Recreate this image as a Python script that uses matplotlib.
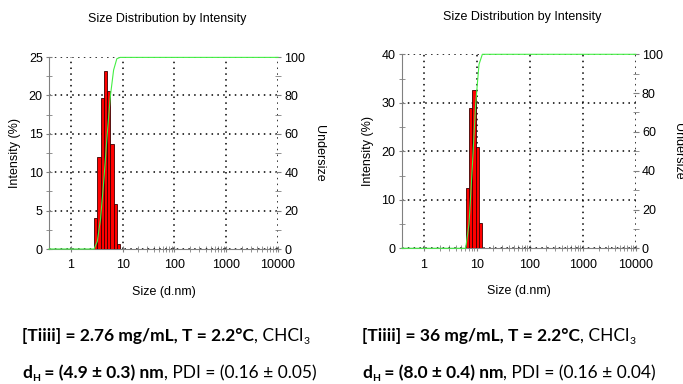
import numpy as np
import matplotlib
matplotlib.use("Agg")
import matplotlib.pyplot as plt
from matplotlib.ticker import FixedLocator, NullFormatter

# bin centres (d.nm) and intensity (%)
size_a = [3.03, 3.50, 4.04, 4.67, 5.40, 6.24, 7.21, 8.33]
int_a = [4.0, 12.0, 19.7, 23.2, 20.6, 13.7, 5.9, 0.7]

size_b = [6.6, 7.6, 8.8, 10.2, 11.8]
int_b = [12.5, 28.9, 32.6, 20.8, 5.2]

ymax_a, ystep_a = 25, 5
ymax_b, ystep_b = 40, 10

info_a = [("[Tiiii] = 2.76 mg/mL, T = 2.2°C", "bold", False), (", CHCl", "normal", False), ("3", "normal", True)]
info_b = [("[Tiiii] = 36 mg/mL, T = 2.2°C", "bold", False), (", CHCl", "normal", False), ("3", "normal", True)]
res_a = [("d", "bold", False), ("H", "bold", True), (" = (4.9 ± 0.3) nm", "bold", False), (", PDI = (0.16 ± 0.05)", "normal", False)]
res_b = [("d", "bold", False), ("H", "bold", True), (" = (8.0 ± 0.4) nm", "bold", False), (", PDI = (0.16 ± 0.04)", "normal", False)]

ratio = 1.1557
xmin, xmax = 0.38, 10000

plt.rcParams['font.family'] = ['Liberation Sans', 'DejaVu Sans']
fig = plt.figure(figsize=(6.83, 3.84), dpi=100)


def dls_panel(rect, sizes, vals, ymax, ystep, left_minor_from, title_y, ylab_x, xlab_y):
    ax = fig.add_axes(rect)
    c = np.array(sizes)
    lo = c / np.sqrt(ratio)
    hi = c * np.sqrt(ratio)
    ax.bar(lo, vals, width=hi - lo, align='edge', color='#ff0000',
           edgecolor='#3a0000', linewidth=0.6, zorder=3)
    ax.set_xscale('log')
    ax.set_xlim(xmin, xmax)
    ax.set_ylim(0, ymax)
    ax.set_xticks([1, 10, 100, 1000, 10000])
    ax.set_xticklabels(['1', '10', '100', '1000', '10000'])
    minors = [m * 10.0 ** e for e in range(-1, 4) for m in range(2, 10)]
    minors = [m for m in minors if left_minor_from <= m < xmax]
    ax.xaxis.set_minor_locator(FixedLocator(minors))
    ax.xaxis.set_minor_formatter(NullFormatter())
    ax.set_yticks(np.arange(0, ymax + 0.1, ystep))
    ax.yaxis.set_minor_locator(FixedLocator(np.arange(ystep / 2, ymax, ystep)))
    ax.grid(True, which='major', color='black', linestyle=(0, (1, 2.8)), linewidth=1.1)
    for s in ['top', 'right']:
        ax.spines[s].set_visible(False)
    for s in ['left', 'bottom']:
        ax.spines[s].set_color('#808080')
    ax.tick_params(which='both', direction='inout', color='#808080', labelsize=9)
    ax.tick_params(axis='x', which='both', length=5, pad=5)
    ax.tick_params(axis='y', which='both', length=5, pad=2)
    ax.set_ylabel('Intensity (%)', fontsize=9)
    ax.yaxis.set_label_coords(ylab_x, 0.5)
    ax.set_xlabel('Size (d.nm)', fontsize=9)
    ax.xaxis.set_label_coords(0.5, xlab_y)

    ax2 = ax.twinx()
    ax2.set_ylim(0, 100)
    ax2.set_yticks([0, 20, 40, 60, 80, 100])
    ax2.yaxis.set_minor_locator(FixedLocator([10, 30, 50, 70, 90]))
    for s in ax2.spines.values():
        s.set_visible(False)
    ax2.tick_params(which='both', direction='inout', color='#808080', labelsize=9,
                    length=5, pad=2)
    cum = np.cumsum(vals)
    cx = [xmin, lo[0]] + list(hi) + [xmax]
    cy = [0, 0] + list(cum) + [cum[-1]]
    ax2.plot(cx, cy, color='#44ee44', linewidth=0.8, clip_on=False, zorder=4)
    ax2.set_ylabel('Undersize', fontsize=9, rotation=270, va='center')
    ax2.yaxis.set_label_coords(1.181, 0.5)

    x0, y0, w, h = rect
    fig.text(x0 + w / 2 + 0.005, 1 - title_y / 384, 'Size Distribution by Intensity',
             fontsize=9, ha='center', va='center')
    return ax


dls_panel([49 / 683, 135 / 384, 229 / 683, 192 / 384], size_a, int_a,
          ymax_a, ystep_a, 10, 19, -0.122, -0.195)
dls_panel([401.7 / 683, 135.7 / 384, 234 / 683, 194 / 384], size_b, int_b,
          ymax_b, ystep_b, 2, 17, -0.118, -0.19)

renderer = fig.canvas.get_renderer()


def rich_line(x_px, y_frac, parts):
    x = x_px / 683
    for s, w, sub in parts:
        t = fig.text(x, y_frac - (0.009 if sub else 0), s, fontsize=7.5 if sub else 12.5,
                     weight=w, family=['Lato', 'DejaVu Sans'], va='baseline')
        bb = t.get_window_extent(renderer=renderer)
        x += bb.width / fig.bbox.width


rich_line(22, 1 - 341 / 384, info_a)
rich_line(22, 1 - 378 / 384, res_a)
rich_line(362, 1 - 341 / 384, info_b)
rich_line(362, 1 - 378 / 384, res_b)

fig.savefig('out.png', dpi=100)
